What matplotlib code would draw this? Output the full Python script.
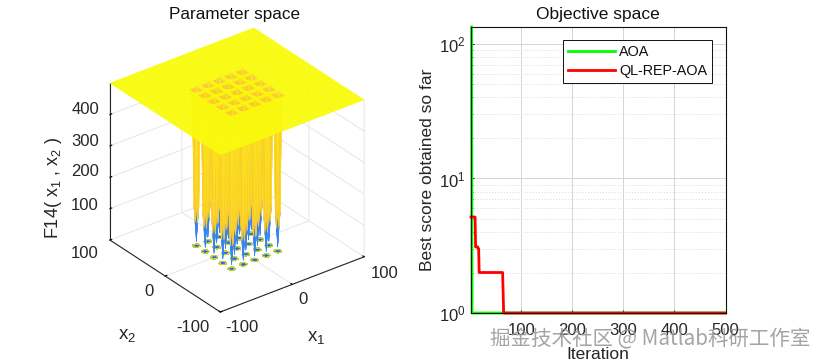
import numpy as np
import matplotlib
matplotlib.use("Agg")
import matplotlib.pyplot as plt
from matplotlib.colors import LinearSegmentedColormap, Normalize

plt.rcParams['font.family'] = ['Liberation Sans', 'DejaVu Sans']
plt.rcParams['mathtext.fontset'] = 'custom'
plt.rcParams['mathtext.rm'] = 'Liberation Sans'
plt.rcParams['mathtext.default'] = 'regular'

W, H = 825, 362
TXT = '#262626'

# left panel
grid_x = list(range(-100, 101, 2))
well_centres = [-32, -16, 0, 16, 32]
plateau = 500
# height of the funnel, indexed by distance from the well centre in grid steps
well_table = [[13, 75, 445, 495],
              [75, 125, 445, 495],
              [445, 445, 472, 497],
              [495, 495, 497, 499]]
floor_levels = [0, 150, 350, 440]
floor_colors = ['#2f5fd8', '#2a8fd0', '#c4cc3c']
z_ticks = [100, 200, 300, 400]
xy_ticks = [-100, 0, 100]
z_tick_labels = ['100', '200', '300', '400']
x_tick_labels = ['-100', '0', '100']
y_tick_labels = ['-100', '0', '100']

# right panel
iter_ticks = [100, 200, 300, 400, 500]
aoa_iter = [2, 2, 3, 500]
aoa_best = [133.6, 133, 1, 1]
ql_iter = [1, 9, 10, 14, 15, 16, 17, 63, 65, 500]
ql_best = [5.17, 5.17, 3.1, 3.1, 3.0, 3.0, 2.0, 2.0, 1.0, 1.0]

parula = LinearSegmentedColormap.from_list('parula', [
    (0.0, (0.2422, 0.1504, 0.6603)), (0.1, (0.2803, 0.2782, 0.9221)),
    (0.2, (0.2440, 0.4358, 0.9988)), (0.3, (0.1540, 0.5902, 0.9218)),
    (0.4, (0.0297, 0.7082, 0.8163)), (0.5, (0.1938, 0.7758, 0.6251)),
    (0.6, (0.5044, 0.7993, 0.3480)), (0.7, (0.80, 0.74, 0.20)),
    (0.85, (0.99, 0.75, 0.22)), (0.92, (0.98, 0.83, 0.15)),
    (1.0, (0.976, 0.983, 0.054))])


def axes_rect(left, top, right, bottom):
    return [left / W, 1 - bottom / H, (right - left) / W, (bottom - top) / H]


def px_text(x, y, s, **kw):
    fig.text(x / W, 1 - y / H, s, ha='center', va='center', color=TXT, **kw)


fig = plt.figure(figsize=(W / 100, H / 100), dpi=100)

# ---- parameter space
ax = fig.add_axes(axes_rect(83, 24, 383, 324), projection='3d', computed_zorder=False)
ax.patch.set_alpha(0)
X, Y = np.meshgrid(grid_x, grid_x)
Z = np.full(X.shape, plateau, dtype=float)
for cx in well_centres:
    for cy in well_centres:
        i0 = grid_x.index(cy)
        j0 = grid_x.index(cx)
        for di in range(-3, 4):
            for dj in range(-3, 4):
                Z[i0 + di, j0 + dj] = well_table[abs(di)][abs(dj)]

# tall faces take the colour of their highest corner, only the needle stays blue
# faces up on the plateau take their lowest corner so the wells show as spots
norm = Normalize(0, plateau)
corners = [Z[:-1, :-1], Z[1:, :-1], Z[:-1, 1:], Z[1:, 1:]]
face_low = np.minimum.reduce(corners)
face_high = np.maximum.reduce(corners)
face_z = np.where(face_low >= 440, face_low, face_high)
face_cols = parula(norm(face_z))
ax.contourf(X, Y, Z, levels=floor_levels, zdir='z', offset=0, colors=floor_colors, zorder=1)
ax.plot_surface(X, Y, Z, rstride=1, cstride=1, facecolors=face_cols,
                shade=False, linewidth=0.25, antialiased=True, zorder=2)

ax.view_init(elev=30, azim=-127.5)
ax.set_proj_type('ortho')
ax.set_xlim(-100, 100, view_margin=0)
ax.set_ylim(-100, 100, view_margin=0)
ax.set_zlim(0, plateau, view_margin=0)
ax.set_box_aspect((1, 1, 1), zoom=1.016)
ax.set_xticks(xy_ticks)
ax.set_yticks(xy_ticks)
ax.set_zticks(z_ticks)
ax.set_xticklabels([])
ax.set_yticklabels([])
ax.set_zticklabels([])
for axis in (ax.xaxis, ax.yaxis, ax.zaxis):
    axis.set_pane_color((1, 1, 1, 0))
    axis.pane.set_edgecolor('#d9d9d9')
    axis.line.set_color('#262626')
    axis.line.set_linewidth(0.8)
    axis._axinfo['grid'].update(color='#e2e2e2', linewidth=0.6)
    axis._axinfo['tick'].update(inward_factor=0.0, outward_factor=0.15)
ax.zaxis.set_ticks_position('upper')

# mplot3d turns its labels along the axes, matlab keeps them level
z_label_y = [205, 172, 142, 109]
for lab, y in zip(z_tick_labels, z_label_y):
    px_text(85, y, lab, fontsize=12)
for lab, pos in zip(x_tick_labels, [(242, 328), (303, 300), (385, 273)]):
    px_text(pos[0], pos[1], lab, fontsize=12)
for lab, pos in zip(y_tick_labels, [(193, 327), (149, 291), (85, 254)]):
    px_text(pos[0], pos[1], lab, fontsize=12)
px_text(316, 337, 'x$_1$', fontsize=13.5)
px_text(127, 336, 'x$_2$', fontsize=13.5)
px_text(54, 188, 'F14( x$_1$ , x$_2$ )', fontsize=13, rotation=90)
fig.text(235 / W, 1 - 14 / H, 'Parameter space', ha='center', va='center', fontsize=12.3, color='#111111')

# ---- objective space
ax2 = fig.add_axes(axes_rect(471, 27, 725.5, 313))
ax2.semilogy(aoa_iter, aoa_best, color='#00ff00', lw=2, label='AOA', clip_on=False)
ax2.semilogy(ql_iter, ql_best, color='#ff0000', lw=2, label='QL-REP-AOA', clip_on=False)
ax2.set_xlim(1, 500)
ax2.set_ylim(1, 133.6)
ax2.set_xticks(iter_ticks)
ax2.grid(True, which='major', color='#d4d4d4', lw=0.7)
ax2.grid(True, which='minor', axis='y', color='#dcdcdc', lw=0.6, ls=(0, (1.5, 2)))
ax2.set_axisbelow(True)
ax2.tick_params(which='both', direction='in', labelsize=12, colors=TXT, length=2.5, top=False, right=False)
ax2.tick_params(which='minor', length=1.5)
ax2.tick_params(axis='y', pad=4)
ax2.tick_params(axis='x', pad=7)
for s in ax2.spines.values():
    s.set_linewidth(0.8)
    s.set_color('#111111')
ax2.set_title('Objective space', fontsize=12.5, color='#111111', pad=6)
ax2.set_xlabel('Iteration', fontsize=12.5, color=TXT, labelpad=7)
ax2.set_ylabel('Best score obtained so far', fontsize=12.5, color=TXT, labelpad=3)
leg = ax2.legend(loc='upper left', bbox_to_anchor=((562.7 - 471) / 254.5, 1 - 13 / 286), fontsize=10.4,
                 fancybox=False, framealpha=1, edgecolor='#111111', borderpad=0.35,
                 labelspacing=0.35, handlelength=3.3, handletextpad=0.25, borderaxespad=0)
leg.get_frame().set_linewidth(0.7)
for t in leg.get_texts():
    t.set_color('#111111')

# watermark sitting over the bottom of the chart
fig.text(490 / W, 1 - 339 / H, '掘金技术社区 @ Matlab科研工作室', fontsize=14.8, color='#9a9a9a', alpha=0.9,
         va='center', ha='left', family=['Noto Sans CJK SC', 'DejaVu Sans'])

fig.savefig('out.png', dpi=100)
